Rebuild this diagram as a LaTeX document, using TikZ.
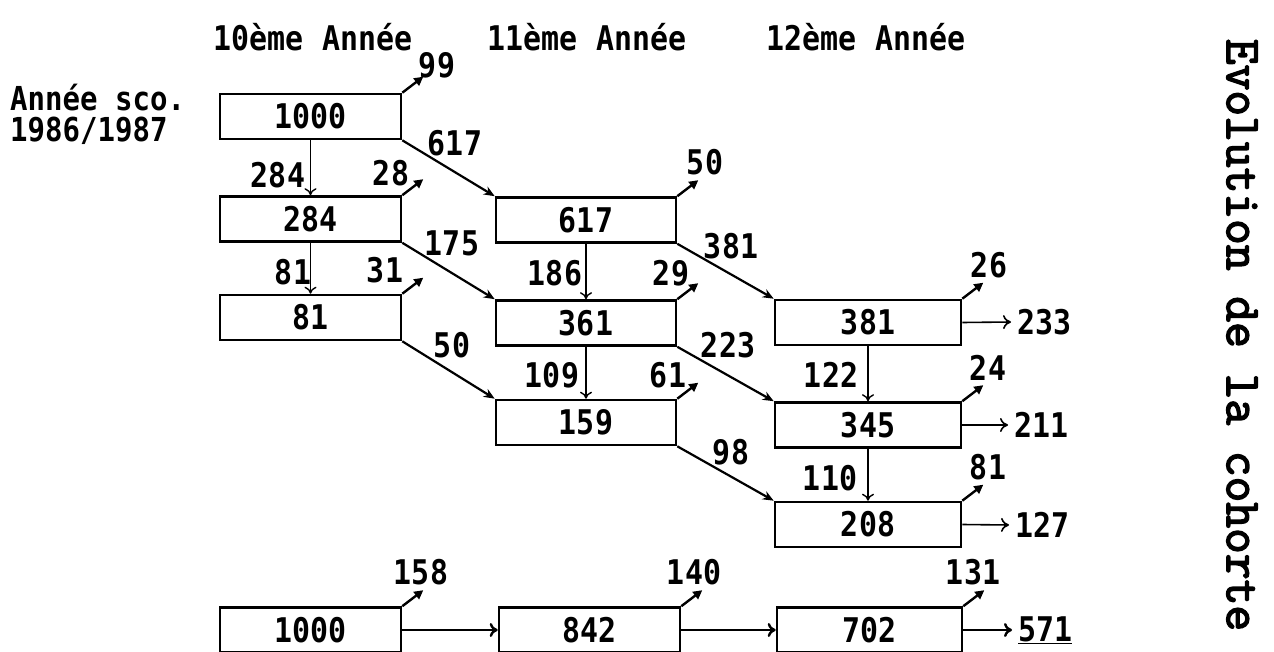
\documentclass[tikz,border=0pt]{standalone}
\usepackage{fontspec}
\newfontfamily\pixf{DejaVu Sans Mono}[FakeStretch=0.88]
\newfontfamily\titf{Latin Modern Mono}[FakeBold=3]
\usetikzlibrary{arrows.meta}
\begin{document}
\begin{tikzpicture}[x=1pt,y=-1pt,
  every node/.style={font=\pixf\bfseries\fontsize{34}{34}\selectfont, inner sep=0pt},
  box/.style={draw, line width=2.6pt, minimum width=181pt, minimum height=45pt},
  lbl/.style={anchor=center},
  diagarr/.style={line width=2.2pt, -{Stealth[length=11pt,width=9pt]}},
  outarr/.style={line width=2.4pt, -{Triangle[length=9pt,width=9pt]}},
  vertarr/.style={line width=1.4pt, -{To[length=7pt,width=12pt]}},
  horarr/.style={line width=1.6pt, -{To[length=8pt,width=14pt]}},
  botarr/.style={line width=2.4pt, -{To[length=8pt,width=14pt]}}
]
\clip (0,0) rectangle (1274,652);
% headings
\node[lbl] (h10) at (313,37) {10ème Année};
\node[lbl] (h11) at (587,37) {11ème Année};
\node[lbl] (h12) at (866,37) {12ème Année};
\node[anchor=west, align=left, font=\pixf\bfseries\fontsize{33}{31}\selectfont] (sco) at (10,114) {Année sco.\\1986/1987};
% title
\node[rotate=-90, font=\titf\fontsize{50}{50}\selectfont] (title) at (1242,335) {Evolution de la cohorte};
% column 1
\node[box] (a1) at (310.5,116.5) {1000};
\node[box] (a2) at (310.5,219) {284};
\node[box] (a3) at (310.5,317.5) {81};
% column 2
\node[box, minimum width=180pt] (b1) at (586,220) {617};
\node[box, minimum width=180pt] (b2) at (586,323) {361};
\node[box, minimum width=180pt] (b3) at (586,422.5) {159};
% column 3
\node[box, minimum width=186pt] (c1) at (868,322.5) {381};
\node[box, minimum width=186pt] (c2) at (868,425) {345};
\node[box, minimum width=186pt] (c3) at (868,524.5) {208};
% bottom row
\node[box] (d1) at (310.5,630) {1000};
\node[box] (d2) at (589.5,630) {842};
\node[box, minimum width=185pt] (d3) at (869.5,630) {702};
% vertical arrows
\draw[vertarr] (a1.south) -- (a2.north);
\draw[vertarr] (a2.south) -- (a3.north);
\draw[vertarr] (b1.south) -- (b2.north);
\draw[vertarr] (b2.south) -- (b3.north);
\draw[vertarr] (c1.south) -- (c2.north);
\draw[vertarr] (c2.south) -- (c3.north);
\node[lbl] (v1) at (278,175) {284};
\node[lbl] (v2) at (293,272) {81};
\node[lbl] (v3) at (555,273) {186};
\node[lbl] (v4) at (552,375) {109};
\node[lbl] (v5) at (831,375) {122};
\node[lbl] (v6) at (830,478) {110};
% diagonal arrows
\draw[diagarr] (a1.south east) -- (b1.north west);
\draw[diagarr] (a2.south east) -- (b2.north west);
\draw[diagarr] (a3.south east) -- (b3.north west);
\draw[diagarr] (b1.south east) -- (c1.north west);
\draw[diagarr] (b2.south east) -- (c2.north west);
\draw[diagarr] (b3.south east) -- (c3.north west);
\node[lbl] (g1) at (455,143) {617};
\node[lbl] (g2) at (452,243) {175};
\node[lbl] (g3) at (452,345) {50};
\node[lbl] (g4) at (731,246) {381};
\node[lbl] (g5) at (728,345) {223};
\node[lbl] (g6) at (731,452) {98};
% out arrows
\foreach \n in {a1,a2,a3,b1,b2,b3,c1,c2,c3,d1,d2,d3}{
  \draw[outarr] (\n.north east) -- ++(21,-16);
}
\node[lbl] (o1) at (437,65) {99};
\node[lbl] (o2) at (391,173) {28};
\node[lbl] (o3) at (385,270) {31};
\node[lbl] (o4) at (705,162) {50};
\node[lbl] (o5) at (671,273) {29};
\node[lbl] (o6) at (668,375) {61};
\node[lbl] (o7) at (989,265) {26};
\node[lbl] (o8) at (988,368) {24};
\node[lbl] (o9) at (988,467) {81};
\node[lbl] (o10) at (421,572) {158};
\node[lbl] (o11) at (694,572) {140};
\node[lbl] (o12) at (973,572) {131};
% right outputs
\node[anchor=west] (r1) at (1017,322) {233};
\node[anchor=west] (r2) at (1014,425) {211};
\node[anchor=west] (r3) at (1015,525) {127};
\node[anchor=west] (r4) at (1018,630) {\underline{571}};
\draw[horarr] (c1.east) -- ([xshift=-6pt]r1.west);
\draw[horarr] (c2.east) -- ([xshift=-6pt]r2.west);
\draw[horarr] (c3.east) -- ([xshift=-6pt]r3.west);
\draw[botarr] (d3.east) -- ([xshift=-6pt]r4.west);
\draw[botarr] (d1.east) -- (d2.west);
\draw[botarr] (d2.east) -- (d3.west);
\end{tikzpicture}
\end{document}
